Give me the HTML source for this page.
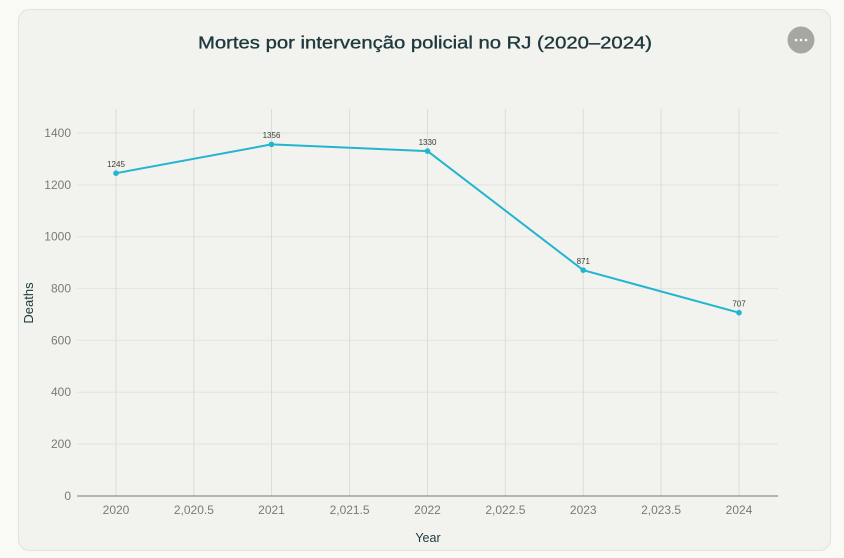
<!DOCTYPE html>
<html><head><meta charset="utf-8"><style>
html,body{margin:0;padding:0;background:#f9faf6;}
svg{display:block;}
</style></head><body>
<svg width="844" height="558" viewBox="0 0 844 558" xmlns="http://www.w3.org/2000/svg" font-family="Liberation Sans, sans-serif">
<rect x="0" y="0" width="844" height="558" fill="#f9faf6"/>
<rect x="18.5" y="9.5" width="812" height="541" rx="11" ry="11" fill="#f2f2ee" stroke="#e2e2de" stroke-width="1"/>
<circle cx="801" cy="40" r="13.5" fill="#a6a6a3"/>
<circle cx="796" cy="40" r="1.3" fill="#fff"/><circle cx="801" cy="40" r="1.3" fill="#fff"/><circle cx="806" cy="40" r="1.3" fill="#fff"/>
<text x="425" y="48.5" text-anchor="middle" font-size="17.6" fill="#1d393d" stroke="#1d393d" stroke-width="0.35" textLength="454" lengthAdjust="spacingAndGlyphs">Mortes por intervenção policial no RJ (2020–2024)</text>
<g stroke="#e3e3df" stroke-width="1">
<line x1="77" y1="444.1" x2="778" y2="444.1"/>
<line x1="77" y1="392.3" x2="778" y2="392.3"/>
<line x1="77" y1="340.4" x2="778" y2="340.4"/>
<line x1="77" y1="288.6" x2="778" y2="288.6"/>
<line x1="77" y1="236.7" x2="778" y2="236.7"/>
<line x1="77" y1="184.9" x2="778" y2="184.9"/>
<line x1="77" y1="133" x2="778" y2="133"/>
</g>
<g stroke="#dcdcd8" stroke-width="1">
<line x1="116" y1="109" x2="116" y2="496"/>
<line x1="193.9" y1="109" x2="193.9" y2="496"/>
<line x1="271.5" y1="109" x2="271.5" y2="496"/>
<line x1="349.6" y1="109" x2="349.6" y2="496"/>
<line x1="427.5" y1="109" x2="427.5" y2="496"/>
<line x1="505.4" y1="109" x2="505.4" y2="496"/>
<line x1="583.25" y1="109" x2="583.25" y2="496"/>
<line x1="661.1" y1="109" x2="661.1" y2="496"/>
<line x1="739" y1="109" x2="739" y2="496"/>
</g>
<line x1="77" y1="496" x2="778" y2="496" stroke="#8e8e8b" stroke-width="1.2"/>
<g font-size="12" fill="#7a7a78" text-anchor="end">
<text x="71" y="500">0</text>
<text x="71" y="448">200</text>
<text x="71" y="396.2">400</text>
<text x="71" y="344.3">600</text>
<text x="71" y="292.5">800</text>
<text x="71" y="240.6">1000</text>
<text x="71" y="188.8">1200</text>
<text x="71" y="137">1400</text>
</g>
<g font-size="12" fill="#7a7a78" text-anchor="middle">
<text x="116" y="514">2020</text>
<text x="193.9" y="514">2,020.5</text>
<text x="271.5" y="514">2021</text>
<text x="349.6" y="514">2,021.5</text>
<text x="427.5" y="514">2022</text>
<text x="505.4" y="514">2,022.5</text>
<text x="583.25" y="514">2023</text>
<text x="661.1" y="514">2,023.5</text>
<text x="739" y="514">2024</text>
</g>
<text x="428" y="542" text-anchor="middle" font-size="12.5" fill="#1d393d">Year</text>
<text transform="translate(33,303) rotate(-90)" text-anchor="middle" font-size="13" fill="#1d393d">Deaths</text>
<polyline points="116,173.2 271.5,144.4 427.5,151.1 583.25,270.2 739,312.7" fill="none" stroke="#22b5cf" stroke-width="2" stroke-linejoin="round"/>
<g fill="#22b5cf">
<circle cx="116" cy="173.2" r="2.8"/>
<circle cx="271.5" cy="144.4" r="2.8"/>
<circle cx="427.5" cy="151.1" r="2.8"/>
<circle cx="583.25" cy="270.2" r="2.8"/>
<circle cx="739" cy="312.7" r="2.8"/>
</g>
<g font-size="8" fill="#3a3a3a" text-anchor="middle">
<text x="116" y="167">1245</text>
<text x="271.5" y="138.2">1356</text>
<text x="427.5" y="145">1330</text>
<text x="583.25" y="264">871</text>
<text x="739" y="306.5">707</text>
</g>
</svg>
</body></html>
